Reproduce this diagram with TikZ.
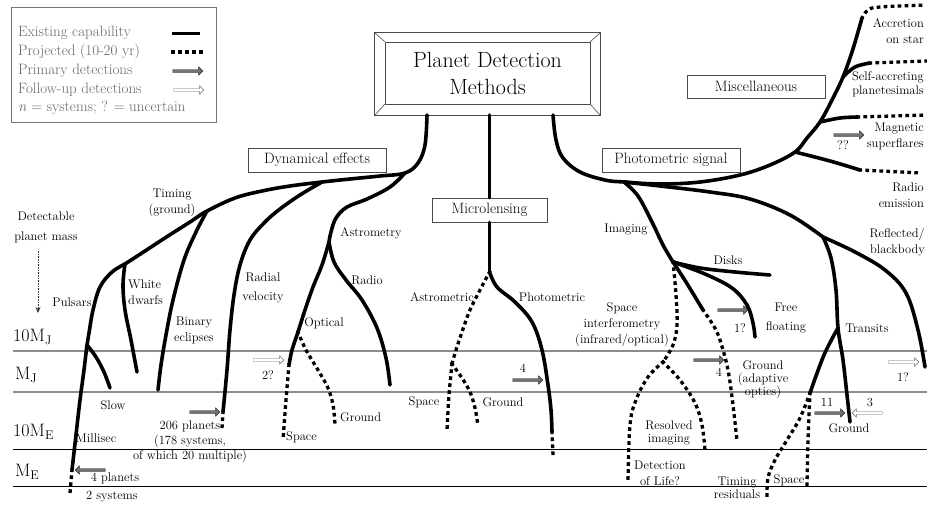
\documentclass[tikz,border=0pt]{standalone}
\usetikzlibrary{shapes.arrows,calc,arrows.meta}
\begin{document}
\begin{tikzpicture}[x=1pt,y=-1pt,
  br/.style={line width=3.6pt,line cap=round,line join=round},
  dbr/.style={line width=3.3pt,dash pattern=on 0.4pt off 6.6pt,line cap=rect,line join=round},
  lab/.style={font=\fontsize{12.5}{16}\selectfont,inner sep=0pt,align=center},
  labr/.style={lab,align=right,anchor=east},
  cat/.style={draw=black!70,line width=0.6pt,minimum width=138pt,minimum height=24pt,inner sep=0pt,font=\fontsize{15}{17}\selectfont},
  mass/.style={font=\fontsize{18}{20}\selectfont,inner sep=0pt,anchor=west},
  levg/.style={line width=1.1pt,draw=black!45},
  levb/.style={line width=0.8pt,draw=black},
  primarr/.style={single arrow,draw=black!85,fill=black!55,line width=0.4pt,minimum height=30pt,inner sep=1.3pt,single arrow head extend=2.6pt},
  fuparr/.style={primarr,fill=white,draw=black!60},
  leg/.style={font=\fontsize{15}{17}\selectfont,text=black!60,inner sep=0pt,anchor=west},
  sm/.style={smooth,tension=0.6}
]
\useasboundingbox (0,0) rectangle (927,504);

% ---------- level lines
\coordinate (l1a) at (13,351); \coordinate (l1b) at (927,351);
\coordinate (l2a) at (13,392); \coordinate (l2b) at (927,392);
\coordinate (l3a) at (13,449); \coordinate (l3b) at (927,449);
\coordinate (l4a) at (13,486); \coordinate (l4b) at (927,486);
\draw[levg] (l1a) -- (l1b);
\draw[levg] (l2a) -- (l2b);
\draw[levb] (l3a) -- (l3b);
\draw[levb] (l4a) -- (l4b);
\node[mass] (mJ10) at (13,337) {10M\textsubscript{J}};
\node[mass] (mJ1) at (15,375) {M\textsubscript{J}};
\node[mass] (mE10) at (13,432) {10M\textsubscript{E}};
\node[mass] (mE1) at (15,472) {M\textsubscript{E}};

% ---------- legend
\node[draw=black!55,line width=0.6pt,minimum width=205pt,minimum height=115pt,anchor=north west,inner sep=0pt] (legend) at (11,7) {};
\node[leg] (lg1) at (18,33) {Existing capability};
\node[leg] (lg2) at (18,52) {Projected (10-20 yr)};
\node[leg] (lg3) at (18,71) {Primary detections};
\node[leg] (lg4) at (18,90) {Follow-up detections};
\node[leg] (lg5) at (18,108) {\textit{n} = systems; ? = uncertain};
\coordinate (ls1a) at (172,33); \coordinate (ls1b) at (200,33);
\coordinate (ls2a) at (173,52); \coordinate (ls2b) at (202,52);
\draw[line width=3pt] (ls1a) -- (ls1b);
\draw[dbr] (ls2a) -- (ls2b);
\node[primarr] (la3) at (187,71) {};
\node[fuparr] (la4) at (188,90) {};

% ---------- title
\node[draw=black!70,line width=0.6pt,minimum width=205pt,minimum height=62pt,inner sep=0pt,font=\fontsize{22}{27}\selectfont,align=center] (title) at (487.5,73) {Planet Detection\\Methods};
\draw[black!70,line width=0.6pt] ($(title.north west)+(-10,-9)$) rectangle ($(title.south east)+(10,11)$);
\draw[black!70,line width=0.6pt] (title.north west) -- ++(-10,-9)
  (title.north east) -- ++(10,-9)
  (title.south west) -- ++(-10,11)
  (title.south east) -- ++(10,11);
\coordinate (tL) at (427,115);
\coordinate (tC) at (489.5,115);
\coordinate (tR) at (553,115);

% ---------- category boxes
\node[cat] (dyn) at (317,160) {Dynamical effects};
\node[cat,minimum width=115pt] (ml) at (489.5,210) {Microlensing};
\node[cat] (phot) at (671,160) {Photometric signal};
\node[cat,minimum height=23pt] (misc) at (756,86.5) {Miscellaneous};

% ---------- dynamical effects
\coordinate (dA) at (405,173);
\coordinate (dR) at (322,182);
\coordinate (dT) at (207,211);
\coordinate (dW) at (125,264);
\coordinate (dP) at (87,345);
\coordinate (pE) at (72,470);
\coordinate (pD) at (70,493);
\coordinate (slE) at (110,388);
\coordinate (wdE) at (137,372);
\coordinate (bE) at (158,390);
\coordinate (rvE) at (223,412);
\coordinate (rvD) at (222,428);
\draw[br] plot[sm] coordinates {(tL) (425,145) (418,163) (dA) (380,176) (350,179) (dR) (290,186) (262,191) (235,198) (dT) (190,222) (168,236) (145,251) (dW)};
\draw[br] plot[sm] coordinates {(dW) (112,272) (100,287) (93,310) (89,333) (dP) (84,370) (80,400) (76,435) (pE)};
\draw[dbr] (pE) -- (pD);
\draw[br] plot[sm] coordinates {(dP) (96,357) (104,372) (slE)};
\draw[br] plot[sm] coordinates {(dW) (123,285) (125,310) (131,340) (wdE)};
\draw[br] plot[sm] coordinates {(dT) (196,232) (184,260) (173,300) (166,335) (161,365) (bE)};
\draw[br] plot[sm] coordinates {(dR) (300,195) (280,209) (265,222) (250,240) (240,265) (234,295) (230,330) (227,370) (rvE)};
\draw[dbr] (rvE) -- (rvD);

% astrometry
\coordinate (aS) at (329,242);
\coordinate (aO) at (298,332);
\coordinate (aOe) at (289,365);
\coordinate (aSp) at (283,440);
\coordinate (aGr) at (335,424);
\coordinate (aRa) at (390,385);
\draw[br] plot[sm] coordinates {(dA) (390,187) (367,199) (347,207) (336,218) (331,232) (aS)};
\draw[br] plot[sm] coordinates {(aS) (322,265) (313,287) (305,310) (aO) (292,350) (aOe)};
\draw[dbr] plot[sm] coordinates {(aOe) (286,400) (aSp)};
\draw[dbr] plot[sm] coordinates {(aO) (306,350) (318,370) (328,388) (333,405) (aGr)};
\draw[br] plot[sm] coordinates {(aS) (334,262) (346,280) (362,300) (377,328) (386,358) (aRa)};

% ---------- microlensing
\coordinate (mlS) at (489.5,272);
\coordinate (mlA) at (452,364);
\coordinate (mlPe) at (552,432);
\coordinate (mlPd) at (553,455);
\coordinate (mlSp) at (447,430);
\coordinate (mlGr) at (478,426);
\draw[br] (tC) -- (ml.north);
\draw[br] (ml.south) -- (mlS);
\draw[br] plot[sm] coordinates {(mlS) (497,287) (515,302) (532,322) (542,350) (548,385) (551,410) (mlPe)};
\draw[dbr] (mlPe) -- (mlPd);
\draw[dbr] plot[sm] coordinates {(mlS) (480,290) (470,310) (462,332) (456,350) (mlA)};
\draw[dbr] plot[sm] coordinates {(mlA) (449,395) (mlSp)};
\draw[dbr] plot[sm] coordinates {(mlA) (462,378) (470,392) (475,408) (mlGr)};

% ---------- photometric / miscellaneous
\coordinate (pS) at (624,182);
\coordinate (mR) at (795,152);
\coordinate (mM) at (820,122);
\coordinate (mS) at (843,77);
\coordinate (mA) at (862,18);
\draw[br] plot[sm] coordinates {(tR) (556,140) (563,158) (580,172) (605,180) (pS) (660,184) (700,182) (740,175) (770,165) (mR) (807,138) (mM) (832,100) (mS) (852,52) (858,32) (mA)};
\coordinate (mAd) at (927,5);
\draw[dbr] plot[sm] coordinates {(mA) (868,10) (880,7) (mAd)};
\coordinate (mSe) at (870,63); \coordinate (mSd) at (927,61);
\draw[br] plot[sm] coordinates {(mS) (855,67) (mSe)};
\draw[dbr] (mSe) -- (mSd);
\coordinate (mMe) at (858,117); \coordinate (mMd) at (927,115);
\draw[br] plot[sm] coordinates {(mM) (840,118) (mMe)};
\draw[dbr] (mMe) -- (mMd);
\coordinate (mRe) at (860,170); \coordinate (mRd) at (922,173);
\draw[br] plot[sm] coordinates {(mR) (830,161) (mRe)};
\draw[dbr] (mRe) -- (mRd);

% reflected / transits
\coordinate (rT) at (823,237);
\coordinate (rE) at (925,367);
\coordinate (tS) at (838,328);
\coordinate (tG) at (850,422);
\coordinate (tL2) at (810,393);
\coordinate (tSp) at (807,485);
\coordinate (tTr) at (767,500);
\draw[br] plot[sm] coordinates {(pS) (660,186) (710,192) (750,199) (790,215) (rT)};
\draw[br] plot[sm] coordinates {(rT) (855,252) (885,270) (906,293) (918,330) (rE)};
\draw[br] plot[sm] coordinates {(rT) (831,258) (836,290) (tS) (843,360) (847,395) (tG)};
\draw[br] plot[sm] coordinates {(tS) (824,355) (tL2)};
\draw[dbr] plot[sm] coordinates {(tL2) (808,440) (tSp)};
\draw[dbr] plot[sm] coordinates {(tL2) (800,418) (787,440) (775,460) (768,478) (tTr)};

% imaging
\coordinate (iS) at (673,262);
\coordinate (iD) at (770,275);
\coordinate (iF) at (755,337);
\coordinate (iG) at (703,310);
\coordinate (iGe) at (737,440);
\coordinate (iI) at (663,362);
\coordinate (iL) at (628,482);
\coordinate (iR) at (705,450);
\draw[br] plot[sm] coordinates {(pS) (638,196) (652,222) (663,245) (iS)};
\draw[br] plot[sm] coordinates {(iS) (700,268) (735,272) (iD)};
\draw[br] plot[sm] coordinates {(iS) (705,274) (732,288) (747,305) (753,323) (iF)};
\draw[br] plot[sm] coordinates {(iS) (686,282) (iG)};
\draw[dbr] plot[sm] coordinates {(iG) (716,330) (723,350) (728,370) (732,397) (iGe)};
\draw[dbr] plot[sm] coordinates {(iS) (676,295) (677,325) (673,345) (iI)};
\draw[dbr] plot[sm] coordinates {(iI) (648,377) (636,400) (630,425) (iL)};
\draw[dbr] plot[sm] coordinates {(iI) (680,380) (695,403) (702,425) (iR)};

% ---------- arrows
\node[primarr,shape border rotate=180] (aPul) at (91,470) {};
\node[primarr] (aRV) at (204,412) {};
\node[fuparr] (aAst) at (268,360) {};
\node[primarr] (aML) at (527,380) {};
\node[primarr] (aMag) at (848,135) {};
\node[primarr] (aFree) at (732,310) {};
\node[primarr] (aAO) at (708,360) {};
\node[primarr] (aTr) at (829,413) {};
\node[fuparr,shape border rotate=180] (aTr3) at (868,413) {};
\node[fuparr] (aRef) at (903,362) {};

% ---------- labels
\node[lab,font=\fontsize{12.5}{20}\selectfont] (tDet) at (46,227) {Detectable\\planet mass};
\coordinate (detA) at (38,313);
\draw[black!80,densely dotted,line width=0.6pt,-{Stealth[length=6pt,width=5pt]}] (tDet.south -| detA) ++(0,8) -- (detA);
\node[lab] (tTim) at (172,203) {Timing\\(ground)};
\node[lab] (tPul) at (72,302) {Pulsars};
\node[lab,align=left,anchor=west] (tWD) at (128,292) {White\\dwarfs};
\node[lab] (tBin) at (194,330) {Binary\\eclipses};
\node[lab,font=\fontsize{12.5}{19}\selectfont] (tRad) at (263,288) {Radial\\velocity};
\node[lab] (tSlow) at (113,405) {Slow};
\node[lab] (tMil) at (96,438) {Millisec};
\node[lab,font=\fontsize{12.5}{15}\selectfont] (t206) at (190,442) {206 planets\\(178 systems,\\of which 20 multiple)};
\node[lab] (t4p) at (115,478) {4 planets};
\node[lab] (t2s) at (112,497) {2 systems};
\node[lab] (tAstr) at (371,233) {Astrometry};
\node[lab] (tRadio) at (367,280) {Radio};
\node[lab] (tOpt) at (324,323) {Optical};
\node[lab,anchor=west] (tGr1) at (340,417) {Ground};
\node[lab,anchor=west] (tSp1) at (286,437) {Space};
\node[lab] (t2q) at (268,375) {2?};
\node[lab] (tAstc) at (442,297) {Astrometric};
\node[lab] (tPhc) at (552,297) {Photometric};
\node[lab] (tSp2) at (424,402) {Space};
\node[lab] (tGr2) at (503,402) {Ground};
\node[lab] (t4a) at (523,368) {4};
\node[labr] (tAcc) at (924,31) {Accretion\\on star};
\node[labr,font=\fontsize{12.5}{14}\selectfont] (tSelf) at (924,84) {Self-accreting\\planetesimals};
\node[labr] (tMag) at (924,136) {Magnetic\\superflares};
\node[lab] (tqq) at (843,145) {??};
\node[labr] (tRem) at (924,195) {Radio\\emission};
\node[labr] (tRef) at (925,242) {Reflected/\\blackbody};
\node[lab] (tImg) at (626,230) {Imaging};
\node[lab] (tDisk) at (728,260) {Disks};
\node[lab,font=\fontsize{12.5}{19}\selectfont] (tFree) at (786,318) {Free\\floating};
\node[lab] (t1a) at (740,328) {1?};
\node[lab] (tSI) at (622,325) {Space\\interferometry\\(infrared/optical)};
\node[lab,font=\fontsize{12.5}{13}\selectfont] (tGAO) at (763,380) {Ground\\(adaptive\\optics)};
\node[lab] (t4b) at (719,372) {4};
\node[lab,font=\fontsize{12.5}{13}\selectfont] (tRes) at (669,433) {Resolved\\imaging};
\node[lab] (tLife) at (660,473) {Detection\\of Life?};
\node[lab,font=\fontsize{12.5}{13}\selectfont] (tTR) at (737,488) {Timing\\residuals};
\node[lab] (tSp3) at (789,480) {Space};
\node[lab] (tTrn) at (867,328) {Transits};
\node[lab] (tGr3) at (849,428) {Ground};
\node[lab] (t11) at (827,402) {11};
\node[lab] (t3) at (870,402) {3};
\node[lab] (t1b) at (903,377) {1?};
\end{tikzpicture}
\end{document}
